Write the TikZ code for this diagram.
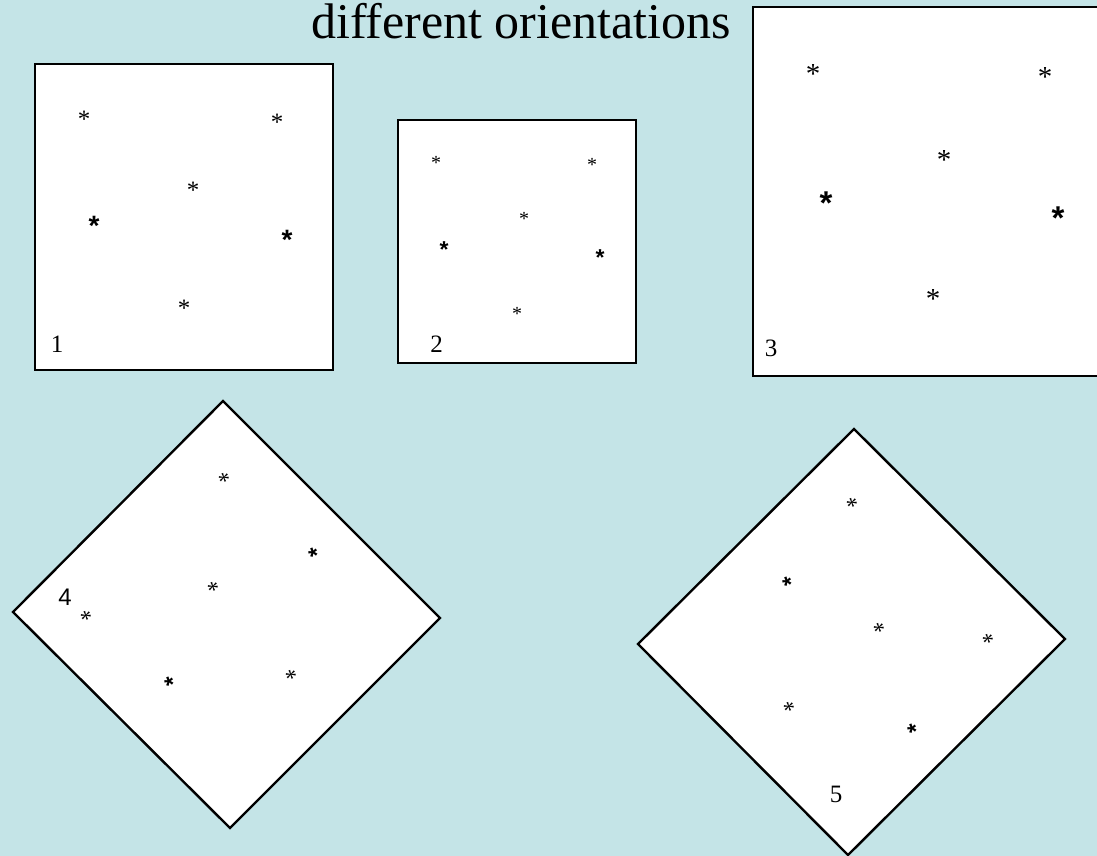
\documentclass[tikz,border=0pt]{standalone}
\usepackage{fontspec}
\setmainfont{Liberation Serif}
\setsansfont{Liberation Sans}
\usepackage{tikz}
\usetikzlibrary{positioning}
\definecolor{paleteal}{RGB}{196, 228, 231}
\newcommand{\serifast}{\raisebox{-0.47em}[0pt][0pt]{*}}
\newcommand{\sansast}{\raisebox{-0.5em}[0pt][0pt]{\sffamily\bfseries *}}
\tikzset{
  panel/.style={draw=black, line width=1.2pt, fill=white},
  sast/.style={inner sep=0pt, font=\fontsize{#1}{#1}\selectfont},
  hast/.style={inner sep=0pt, font=\fontsize{#1}{#1}\selectfont},
  tag/.style={inner sep=0pt, anchor=base, font=\fontsize{12.5pt}{14pt}\selectfont}
}

\begin{document}
\begin{tikzpicture}[x=0.5pt, y=-0.5pt]
  \useasboundingbox (0,0) rectangle (1097,856);
  \clip (0,0) rectangle (1097,856);
  \fill[paleteal] (0,0) rectangle (1097,856);

  % title
  \node[inner sep=0pt, anchor=base, font=\fontsize{25pt}{30pt}\selectfont] (title) at (521,39) {different orientations};

  % panel 1
  \draw[panel] (35,64) rectangle (333,370);
  \node[sast=12.5pt] (p1a) at (84,116) {\serifast};
  \node[sast=12.5pt] (p1b) at (277,119) {\serifast};
  \node[sast=12.5pt] (p1c) at (193,187) {\serifast};
  \node[hast=14pt] (p1d) at (94,221) {\sansast};
  \node[hast=14pt] (p1e) at (287,235) {\sansast};
  \node[sast=12.5pt] (p1f) at (184,305) {\serifast};
  \node[tag] (n1) at (57,352) {1};

  % panel 2
  \draw[panel] (398,120) rectangle (636,363);
  \node[sast=10pt] (p2a) at (436,160) {\serifast};
  \node[sast=10pt] (p2b) at (592,162) {\serifast};
  \node[sast=10pt] (p2c) at (524,216) {\serifast};
  \node[hast=11.5pt] (p2d) at (444,246) {\sansast};
  \node[hast=11.5pt] (p2e) at (600,254) {\sansast};
  \node[sast=10pt] (p2f) at (517,311) {\serifast};
  \node[tag] (n2) at (436.5,352) {2};

  % panel 3
  \draw[panel] (753,7) rectangle (1122,376);
  \node[sast=14.5pt] (p3a) at (813,70) {\serifast};
  \node[sast=14.5pt] (p3b) at (1045,73) {\serifast};
  \node[sast=14.5pt] (p3c) at (944,156) {\serifast};
  \node[hast=16.5pt] (p3d) at (826,198) {\sansast};
  \node[hast=16.5pt] (p3e) at (1058,213) {\sansast};
  \node[sast=14.5pt] (p3f) at (933,295) {\serifast};
  \node[tag] (n3) at (771,356) {3};

  % panel 4
  \draw[panel] (223,401) -- (440,618) -- (230,828) -- (13,612) -- cycle;
  \node[sast=12pt, rotate=20] (p4a) at (224,478) {\serifast};
  \node[hast=12pt, rotate=20] (p4b) at (313,553) {\sansast};
  \node[sast=12pt, rotate=20] (p4c) at (213,587) {\serifast};
  \node[sast=12pt, rotate=20] (p4d) at (86,616) {\serifast};
  \node[hast=12pt, rotate=20] (p4e) at (169,682) {\sansast};
  \node[sast=12pt, rotate=20] (p4f) at (291,675) {\serifast};
  \node[tag, font=\sffamily\fontsize{12pt}{14pt}\selectfont] (n4) at (65,605) {4};

  % panel 5
  \draw[panel] (854,429) -- (1065,639) -- (848,855) -- (638,644) -- cycle;
  \node[sast=12pt, rotate=20] (p5a) at (852,503) {\serifast};
  \node[hast=12pt, rotate=20] (p5b) at (787,582) {\sansast};
  \node[sast=12pt, rotate=20] (p5c) at (879,628) {\serifast};
  \node[sast=12pt, rotate=20] (p5d) at (988,639) {\serifast};
  \node[sast=12pt, rotate=20] (p5e) at (789,707) {\serifast};
  \node[hast=12pt, rotate=20] (p5f) at (912,729) {\sansast};
  \node[tag] (n5) at (836,802) {5};
\end{tikzpicture}
\end{document}
